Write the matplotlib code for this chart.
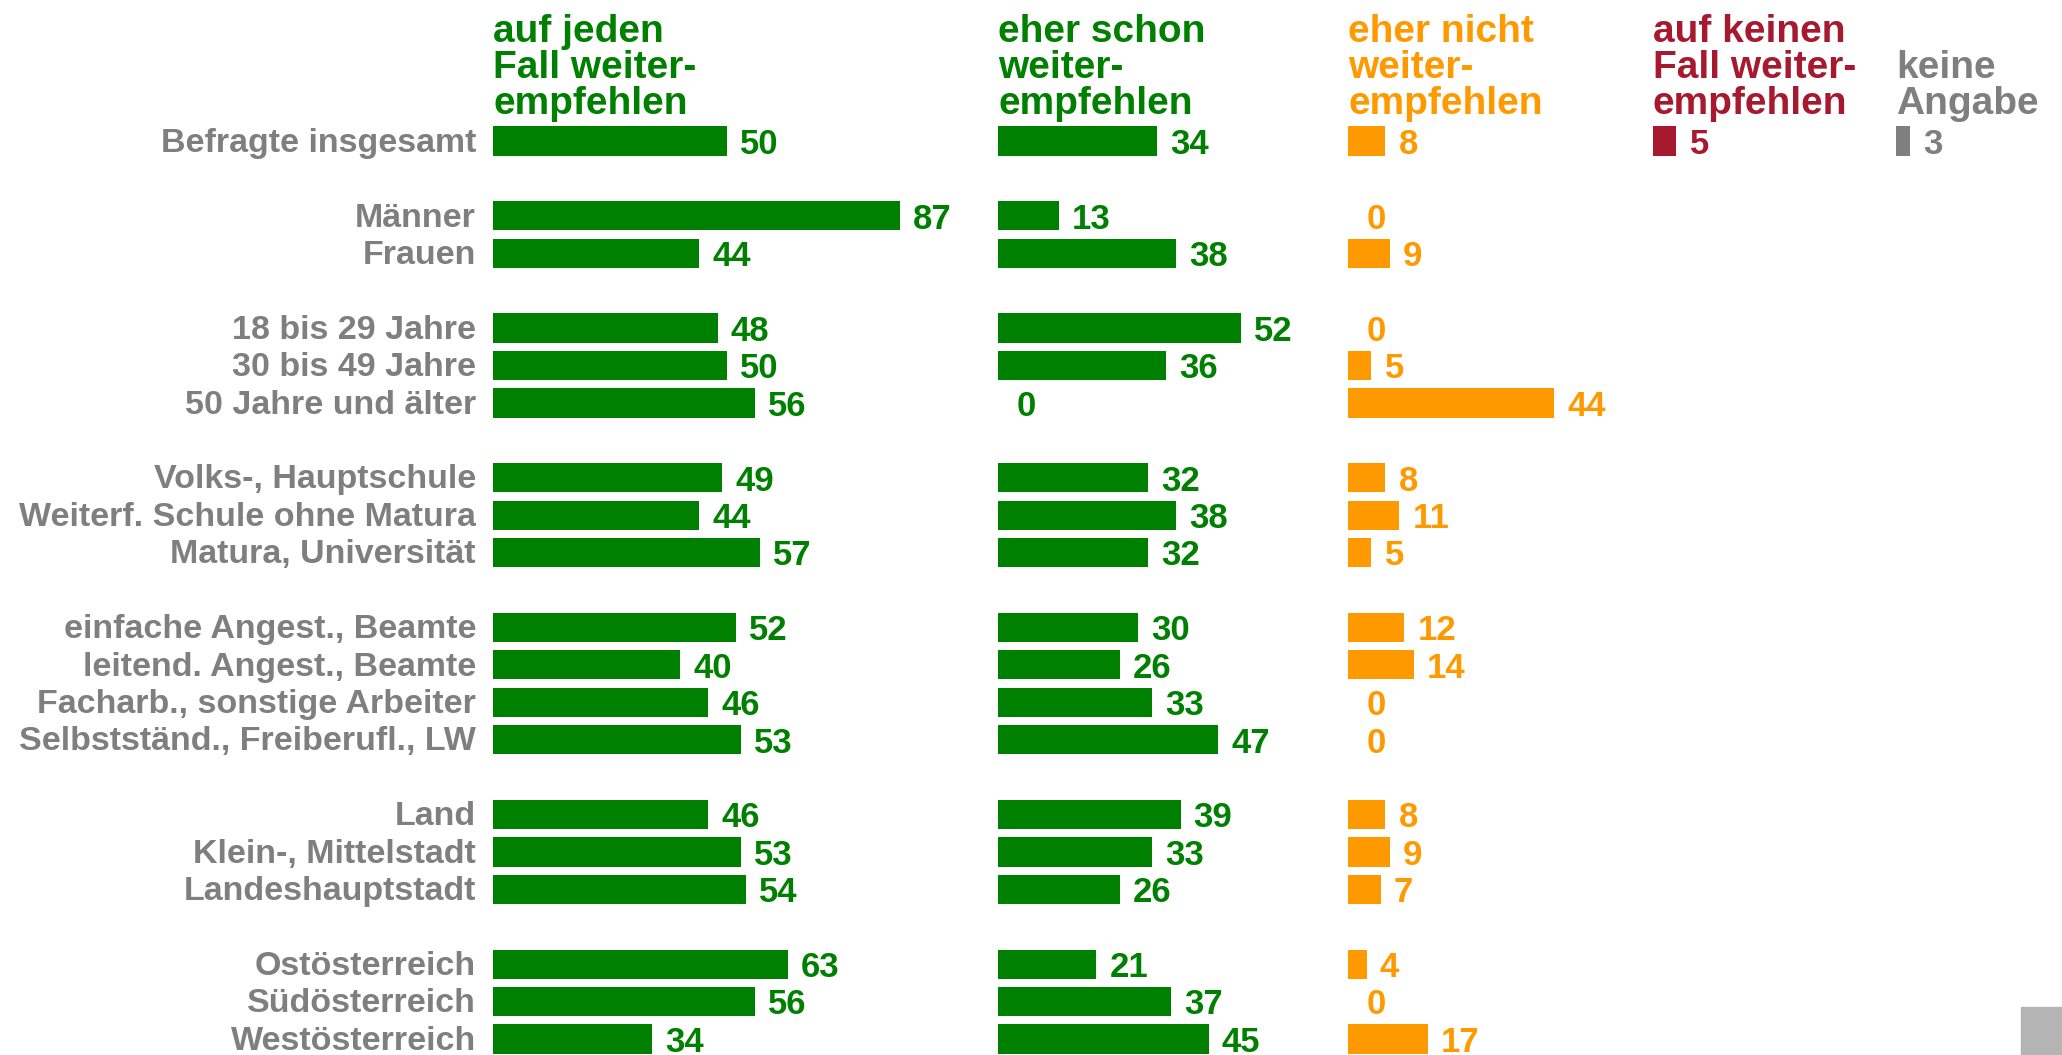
import matplotlib
matplotlib.use("Agg")
import matplotlib.pyplot as plt

plt.rcParams['font.family'] = ['Liberation Sans Narrow', 'Liberation Sans', 'DejaVu Sans']
plt.rcParams['font.weight'] = 'bold'

# row labels and their slot (empty slots = gaps between groups)
labels = ["Befragte insgesamt",
          "Männer", "Frauen",
          "18 bis 29 Jahre", "30 bis 49 Jahre", "50 Jahre und älter",
          "Volks-, Hauptschule", "Weiterf. Schule ohne Matura", "Matura, Universität",
          "einfache Angest., Beamte", "leitend. Angest., Beamte",
          "Facharb., sonstige Arbeiter", "Selbstständ., Freiberufl., LW",
          "Land", "Klein-, Mittelstadt", "Landeshauptstadt",
          "Ostösterreich", "Südösterreich", "Westösterreich"]
slots = [0, 2, 3, 5, 6, 7, 9, 10, 11, 13, 14, 15, 16, 18, 19, 20, 22, 23, 24]

auf_jeden = [50, 87, 44, 48, 50, 56, 49, 44, 57, 52, 40, 46, 53, 46, 53, 54, 63, 56, 34]
eher_schon = [34, 13, 38, 52, 36, 0, 32, 38, 32, 30, 26, 33, 47, 39, 33, 26, 21, 37, 45]
eher_nicht = [8, 0, 9, 0, 5, 44, 8, 11, 5, 12, 14, 0, 0, 8, 9, 7, 4, 0, 17]
auf_keinen = [5]   # only for "Befragte insgesamt"
keine_angabe = [3]

headers = ["auf jeden\nFall weiter-\nempfehlen",
           "eher schon\nweiter-\nempfehlen",
           "eher nicht\nweiter-\nempfehlen",
           "auf keinen\nFall weiter-\nempfehlen",
           "keine\nAngabe"]

GREEN = "#008000"
ORANGE = "#FF9900"
RED = "#A6192E"
GREY = "#7F7F7F"

# x axis in percent units; 1 unit ~ 4.68 px
PX = 4.68
W, H = 2062, 1055
col_left = [493 / PX, 998 / PX, 1348 / PX, 1653 / PX, 1896 / PX]
columns = [(auf_jeden, GREEN), (eher_schon, GREEN), (eher_nicht, ORANGE),
           (auf_keinen, RED), (keine_angabe, GREY)]

fig = plt.figure(figsize=(W / 100, H / 100), dpi=100)
ax = fig.add_axes([0, 0, 1, 1])
ax.set_xlim(0, W / PX)
row_px = 37.42
ax.set_ylim(24 + (H - 1039) / row_px, -141 / row_px)
ax.axis('off')

for (vals, color), left, head in zip(columns, col_left, headers):
    ys = slots[:len(vals)]
    ax.barh(ys, vals, left=left, height=0.78, color=color, edgecolor='none')
    for y, v in zip(ys, vals):
        off = 2.8 if v > 0 else 4.0
        ax.text(left + v + off, y + 0.09, str(v), color=color, fontsize=25,
                ha='left', va='center')
    ax.text(left, -0.5, head, color=color, fontsize=28, ha='left', va='bottom',
            linespacing=1.0)

for y, lab in zip(slots, labels):
    ax.text(476 / PX, y + 0.06, lab, color=GREY, fontsize=24.5, ha='right', va='center')

# grey marker box bottom right
ax.add_patch(plt.Rectangle((2021 / PX, 24 + (H - 1039 - 48) / row_px), 41 / PX, 48 / row_px,
                           color='#B4B4B4', clip_on=False))

fig.savefig("out.png", dpi=100)
